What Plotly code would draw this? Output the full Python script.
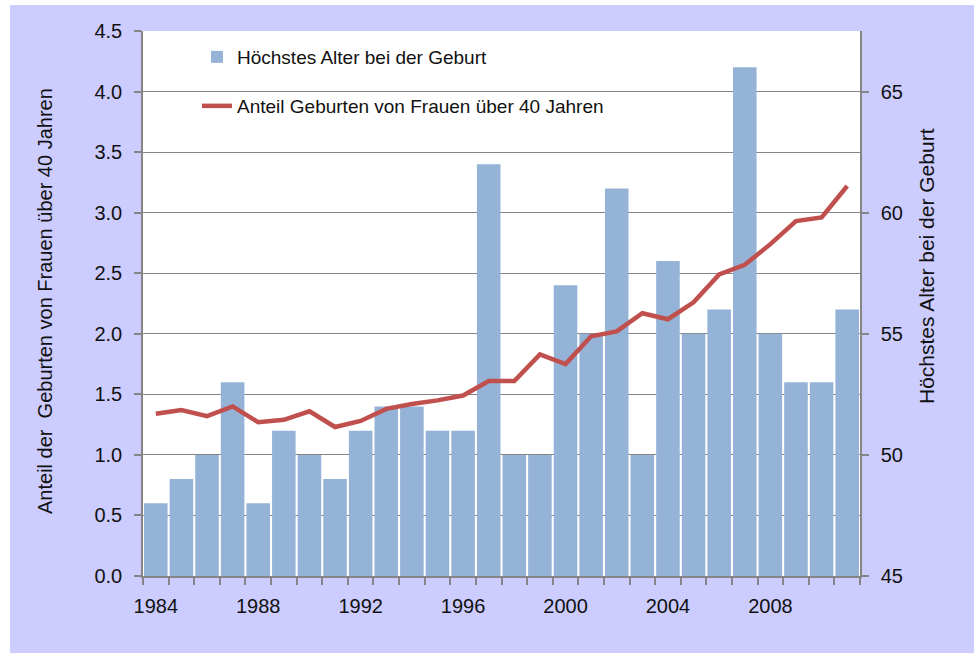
import plotly.graph_objects as go

years = list(range(1984, 2012))
max_age = [48, 49, 50, 53, 48, 51, 50, 49, 51, 52, 52, 51, 51, 62,
           50, 50, 57, 55, 61, 50, 58, 55, 56, 66, 55, 53, 53, 56]
share_over_40 = [1.34, 1.37, 1.32, 1.40, 1.27, 1.29, 1.36, 1.23, 1.28, 1.38,
                 1.42, 1.45, 1.49, 1.61, 1.61, 1.83, 1.75, 1.98, 2.02, 2.17,
                 2.12, 2.26, 2.49, 2.57, 2.74, 2.93, 2.96, 3.22]
x_tick_labels = ["1984", "1988", "1992", "1996", "2000", "2004", "2008"]
x_tick_vals = [1984, 1988, 1992, 1996, 2000, 2004, 2008]
left_ticks = [0, 0.5, 1.0, 1.5, 2.0, 2.5, 3.0, 3.5, 4.0, 4.5]
right_ticks = [45, 50, 55, 60, 65]

name_bar = "Höchstes Alter bei der Geburt"
name_line = "Anteil Geburten von Frauen über 40 Jahren"
title_left = "Anteil der  Geburten von Frauen über 40 Jahren"
title_right = "Höchstes Alter bei der Geburt"

FONT = "Liberation Sans, Arial, sans-serif"
GRAY = "#858585"
TXT = "#111111"

W, H = 974, 653
L, R, T, B = 143, 114, 31, 77
PW, PH = W - L - R, H - T - B


def px_x(p):
    return (p - L) / PW


def px_y(p):
    return (H - B - p) / PH


fig = go.Figure()
fig.add_trace(go.Bar(
    x=years, y=max_age, name=name_bar, yaxis="y",
    marker=dict(color="#95B3D7", line=dict(width=0)),
    legend="legend", showlegend=True,
))
fig.add_trace(go.Scatter(
    x=years, y=share_over_40, name=name_line, yaxis="y2", mode="lines",
    line=dict(color="#C0504D", width=4.5),
    legend="legend2", showlegend=True,
))

fig.update_layout(
    width=W, height=H, autosize=False, showlegend=True,
    margin=dict(l=L, r=R, t=T, b=B, pad=0),
    paper_bgcolor="#CCCCFF", plot_bgcolor="white",
    font=dict(family=FONT, color=TXT, size=19),
    bargap=0.08,
    xaxis=dict(
        range=[1983.5, 2011.5], tickmode="array", tickvals=x_tick_vals,
        ticktext=x_tick_labels, ticks="", showgrid=False, zeroline=False,
        showline=True, linecolor=GRAY, linewidth=1.5, automargin=False,
        tickfont=dict(size=20, color=TXT), ticklabelstandoff=11,
        minor=dict(ticks="outside", tickmode="linear", tick0=1983.5, dtick=1,
                   ticklen=7, tickcolor=GRAY, tickwidth=1.5, showgrid=False),
    ),
    yaxis=dict(
        side="right", range=[45, 67.5], tickmode="array", tickvals=right_ticks,
        showgrid=False, zeroline=False, showline=True, linecolor=GRAY,
        linewidth=1.5, ticks="outside", ticklen=7, tickcolor=GRAY, tickwidth=1.5,
        tickfont=dict(size=20, color=TXT), ticklabelstandoff=8, automargin=False,
    ),
    yaxis2=dict(
        overlaying="y", side="left", range=[0, 4.5], tickmode="array",
        tickvals=left_ticks, tickformat=".1f", showgrid=True, gridcolor=GRAY,
        gridwidth=1.2, zeroline=False, showline=True, linecolor=GRAY,
        linewidth=1.5, ticks="outside", ticklen=7, tickcolor=GRAY, tickwidth=1.5,
        tickfont=dict(size=20, color=TXT), ticklabelstandoff=8, automargin=False,
    ),
    legend=dict(x=px_x(197), y=px_y(57), xanchor="left", yanchor="middle",
                bgcolor="rgba(0,0,0,0)", font=dict(size=19, color=TXT)),
    legend2=dict(x=px_x(197), y=px_y(106), xanchor="left", yanchor="middle",
                 bgcolor="rgba(0,0,0,0)", font=dict(size=19, color=TXT)),
    annotations=[
        dict(text=title_left, textangle=-90, xref="paper", yref="paper",
             x=px_x(45), y=px_y(301), xanchor="center", yanchor="middle",
             showarrow=False, font=dict(size=20, color=TXT)),
        dict(text=title_right, textangle=-90, xref="paper", yref="paper",
             x=px_x(926), y=px_y(266), xanchor="center", yanchor="middle",
             showarrow=False, font=dict(size=21, color=TXT)),
    ],
    shapes=[
        dict(type="rect", xref="paper", yref="paper", x0=px_x(-5), x1=px_x(979),
             y0=px_y(5), y1=px_y(-5), fillcolor="white", line=dict(width=0)),
        dict(type="rect", xref="paper", yref="paper", x0=px_x(-5), x1=px_x(10),
             y0=px_y(660), y1=px_y(-5), fillcolor="white", line=dict(width=0)),
    ],
)

fig.write_html("out.html", config={"displayModeBar": False},
               post_script="document.body.style.margin='0';")
